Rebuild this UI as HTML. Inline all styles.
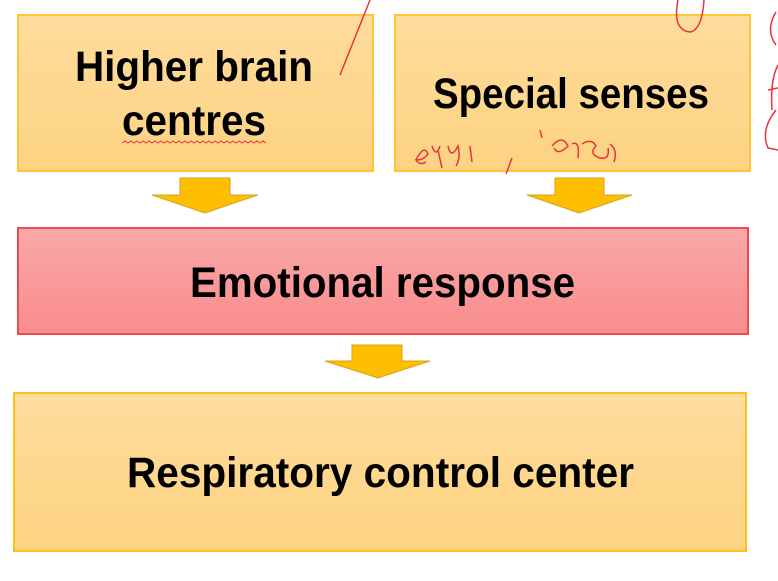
<!DOCTYPE html>
<html><head><meta charset="utf-8"><style>html,body{margin:0;padding:0;background:#fff;}svg{display:block}</style></head>
<body>
<svg width="778" height="581" viewBox="0 0 778 581" xmlns="http://www.w3.org/2000/svg">
<defs>
<linearGradient id="y" x1="0" y1="0" x2="0" y2="1"><stop offset="0" stop-color="#fedc9c"/><stop offset="1" stop-color="#fdd382"/></linearGradient>
<linearGradient id="r" x1="0" y1="0" x2="0" y2="1"><stop offset="0" stop-color="#f9a8a8"/><stop offset="1" stop-color="#f98c8c"/></linearGradient>
</defs>
<rect width="778" height="581" fill="#fff"/>
<rect x="18" y="15" width="355" height="156" fill="url(#y)" stroke="#fcc53a" stroke-width="2"/>
<rect x="395" y="15" width="355" height="156" fill="url(#y)" stroke="#fcc53a" stroke-width="2"/>
<rect x="18" y="228" width="730" height="106" fill="url(#r)" stroke="#ee4a52" stroke-width="2"/>
<rect x="14" y="393" width="732" height="158" fill="url(#y)" stroke="#fcc020" stroke-width="2"/>
<g fill="#fdbf00" stroke="#d7a31a" stroke-width="1">
<polygon points="180,178 230,178 230,195 258,195 205,213 152,195 180,195"/>
<polygon points="555,178 604,178 604,195 632,195 579,213 527,195 555,195"/>
<polygon points="352,345 402,345 402,361 430,361 378,378 325,361 352,361"/>
</g>
<g font-family="Liberation Sans, sans-serif" font-weight="bold" fill="#000" font-size="43">
<text x="75" y="81" textLength="238" lengthAdjust="spacingAndGlyphs">Higher brain</text>
<text x="122" y="135" textLength="144" lengthAdjust="spacingAndGlyphs">centres</text>
<text x="433" y="108" textLength="276" lengthAdjust="spacingAndGlyphs">Special senses</text>
<text x="190" y="297" textLength="385" lengthAdjust="spacingAndGlyphs">Emotional response</text>
<text x="127" y="487" textLength="507" lengthAdjust="spacingAndGlyphs">Respiratory control center</text>
</g>
<path d="M122,143 l3,-2 3,2 3,-2 3,2 3,-2 3,2 3,-2 3,2 3,-2 3,2 3,-2 3,2 3,-2 3,2 3,-2 3,2 3,-2 3,2 3,-2 3,2 3,-2 3,2 3,-2 3,2 3,-2 3,2 3,-2 3,2 3,-2 3,2 3,-2 3,2 3,-2 3,2 3,-2 3,2 3,-2 3,2 3,-2 3,2 3,-2 3,2 3,-2 3,2 3,-2 3,2 3,-2 3,2" fill="none" stroke="#e33" stroke-width="1"/>
<g fill="none" stroke="#e8323c" stroke-width="1.5">
<path d="M370,0 L340,75"/>
<path d="M678,0 Q672,30 690,32 Q702,30 704,0"/>
<path d="M776,12 Q765,30 776,45"/>
<path d="M778,65 Q770,80 772,110 M768,90 L778,88"/>
<path d="M776,110 Q760,130 768,148 L778,150"/>
<path d="M416,160 q8,-16 12,-6 q-4,6 -12,6 q4,6 10,2 M432,146 q4,12 8,0 M438,150 l4,18 M448,146 q3,14 10,0 q3,12 -2,20 M470,146 l2,16"/>
<path d="M512,158 L506,174"/>
<path d="M540,130 l2,8 M552,146 q10,-12 16,0 q-10,10 -14,2 M572,144 q8,-4 6,14 M582,144 q10,-6 14,2 q-8,8 4,12 q10,2 8,-10 M610,144 q8,6 4,18"/>
</g>
</svg>
</body></html>
